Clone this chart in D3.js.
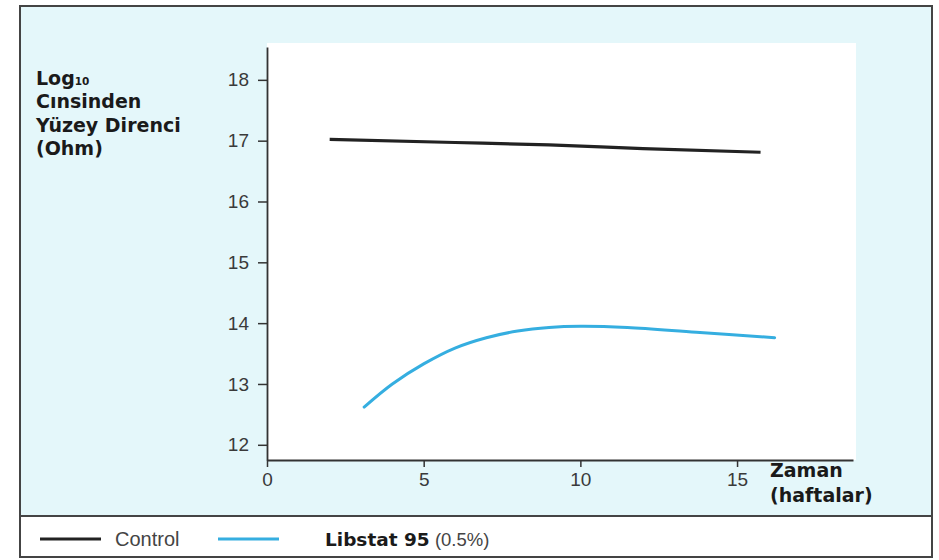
<!DOCTYPE html>
<html>
<head>
<meta charset="utf-8">
<script src="https://cdn.jsdelivr.net/npm/d3@7"></script>
<style>
  html, body { margin: 0; padding: 0; background: #ffffff; }
  svg { display: block; }
</style>
</head>
<body>
<svg id="chart" width="939" height="560"></svg>
<script>
// ---- data ----
const xTicks = [0, 5, 10, 15];
const yTicks = [12, 13, 14, 15, 16, 17, 18];
const controlWeeks = [2, 6, 9, 12, 15.75];
const controlValues = [17.02, 16.97, 16.93, 16.87, 16.81];
const libstatWeeks = [3.1, 4, 5, 6, 7, 8, 9, 10, 11.5, 13.7, 16.2];
const libstatValues = [12.62, 13.0, 13.33, 13.59, 13.76, 13.87, 13.93, 13.95, 13.93, 13.85, 13.76];
const yTitleLines = ["Cınsinden", "Yüzey Direnci", "(Ohm)"];
const xTitleLines = ["Zaman", "(haftalar)"];
const legendItems = [
  { name: "Control", bold: "", rest: "Control", color: "#222222" },
  { name: "Libstat 95", bold: "Libstat 95", rest: " (0.5%)", color: "#35aee0" }
];

const svg = d3.select("#chart");
const boldFont = "'DejaVu Sans', Verdana, sans-serif";
const regFont = "'Liberation Sans', Arial, Helvetica, sans-serif";

// frame + backgrounds
svg.append("rect").attr("x", 20).attr("y", 6).attr("width", 912).attr("height", 510)
  .attr("fill", "#e4f7fa");
svg.append("rect").attr("x", 20).attr("y", 516).attr("width", 912).attr("height", 41)
  .attr("fill", "#ffffff");

const x = d3.scaleLinear().domain([0, 18.7]).range([267, 853]);
const y = d3.scaleLinear().domain([11.75, 18.54]).range([460, 47]);

// plot area white
svg.append("rect").attr("x", x(0)).attr("y", 43).attr("width", 856 - x(0)).attr("height", y(11.75) - 43)
  .attr("fill", "#ffffff");

// axes
const yAxis = d3.axisLeft(y).tickValues(yTicks).tickFormat(d3.format("d"))
  .tickSize(9).tickPadding(9).tickSizeOuter(0);
const gy = svg.append("g").attr("transform", `translate(${x(0)},0)`).call(yAxis);
const xAxis = d3.axisBottom(x).tickValues(xTicks).tickFormat(d3.format("d"))
  .tickSize(7).tickPadding(6).tickSizeOuter(0);
const gx = svg.append("g").attr("transform", `translate(0,${y(11.75)})`).call(xAxis);

[gy, gx].forEach(g => {
  g.select(".domain").attr("stroke", "#333").attr("stroke-width", 1.8);
  g.selectAll(".tick line").attr("stroke", "#333").attr("stroke-width", 1.5);
  g.selectAll(".tick text").attr("fill", "#3a3a3a")
    .style("font-family", regFont).style("font-size", "19px");
});

// lines
const controlLine = d3.line().x(d => x(d[0])).y(d => y(d[1])).curve(d3.curveMonotoneX);
const libLine = d3.line().x(d => x(d[0])).y(d => y(d[1])).curve(d3.curveCatmullRom.alpha(0.5));
const controlData = controlWeeks.map((w, i) => [w, controlValues[i]]);
const libstatData = libstatWeeks.map((w, i) => [w, libstatValues[i]]);

svg.append("path").datum(controlData).attr("d", controlLine)
  .attr("fill", "none").attr("stroke", legendItems[0].color).attr("stroke-width", 3.2)
  .attr("stroke-linecap", "butt");
svg.append("path").datum(libstatData).attr("d", libLine)
  .attr("fill", "none").attr("stroke", legendItems[1].color).attr("stroke-width", 3)
  .attr("stroke-linecap", "round");

// y title
const yt = svg.append("text").attr("x", 36).attr("y", 85)
  .style("font-family", boldFont).style("font-weight", "bold").style("font-size", "19px")
  .attr("fill", "#1a1a1a");
yt.append("tspan").text("Log");
yt.append("tspan").text("10").style("font-size", "10.5px");
yTitleLines.forEach((t, i) => {
  svg.append("text").attr("x", 36).attr("y", 108 + i * 23.5).text(t)
    .style("font-family", boldFont).style("font-weight", "bold").style("font-size", "19px")
    .attr("fill", "#1a1a1a");
});

// x title
xTitleLines.forEach((t, i) => {
  svg.append("text").attr("x", 770).attr("y", 477 + i * 25).text(t)
    .style("font-family", boldFont).style("font-weight", "bold").style("font-size", "19px")
    .attr("fill", "#1a1a1a");
});

// legend
const legendX = [40, 218];
const legendTextX = [115, 325];
legendItems.forEach((it, i) => {
  svg.append("line").attr("x1", legendX[i]).attr("x2", legendX[i] + 61)
    .attr("y1", 539).attr("y2", 539)
    .attr("stroke", it.color).attr("stroke-width", 3);
  const t = svg.append("text").attr("x", legendTextX[i]).attr("y", 546);
  if (it.bold) {
    t.append("tspan").text(it.bold).style("font-size", "18.5px")
      .style("font-family", boldFont).style("font-weight", "bold").attr("fill", "#1a1a1a");
    t.append("tspan").text(it.rest).style("font-size", "18.5px")
      .style("font-family", regFont).attr("fill", "#444");
  } else {
    t.append("tspan").text(it.rest).style("font-size", "20px")
      .style("font-family", regFont).attr("fill", "#444");
  }
});

// frame borders
svg.append("rect").attr("x", 20).attr("y", 6).attr("width", 912).attr("height", 551)
  .attr("fill", "none").attr("stroke", "#444").attr("stroke-width", 2);
svg.append("line").attr("x1", 20).attr("x2", 932).attr("y1", 516).attr("y2", 516)
  .attr("stroke", "#444").attr("stroke-width", 2);
</script>
</body>
</html>
